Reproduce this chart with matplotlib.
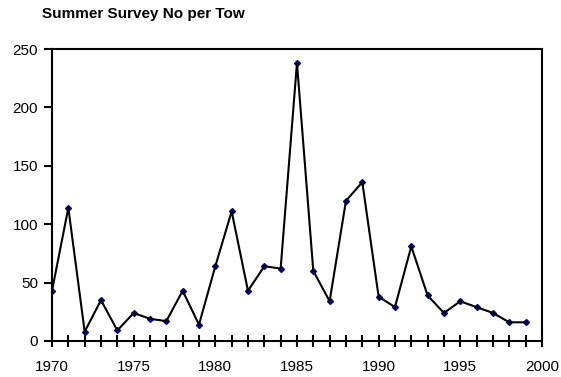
import matplotlib
matplotlib.use("Agg")
import matplotlib.pyplot as plt
from matplotlib.ticker import MultipleLocator

plt.rcParams['font.family'] = ['Liberation Sans', 'DejaVu Sans']

# summer survey catch, numbers per tow
years = list(range(1970, 2000))
noPerTow = [43, 114, 8, 35, 9, 24, 19, 17, 43, 14,
            64, 111, 43, 64, 62, 238, 60, 34, 120, 136,
            38, 29, 81, 39, 24, 34, 29, 24, 16, 16]

fig = plt.figure(figsize=(5.61, 3.77), dpi=100)
axis = fig.add_axes([0.0927, 0.0955, 0.8733, 0.7745])

# markers sit under the line so only their tips show
axis.plot(years, noPerTow, linestyle="", marker="D", markersize=3,
          color="#000080", zorder=2)
axis.plot(years, noPerTow, color="black", linewidth=1.5, zorder=3)

axis.set_xlim(1970, 2000)
axis.set_ylim(0, 250)
axis.xaxis.set_major_locator(MultipleLocator(5))
axis.xaxis.set_minor_locator(MultipleLocator(1))
axis.yaxis.set_major_locator(MultipleLocator(50))

axis.tick_params(axis="x", which="both", direction="inout", length=8, width=1.5,
                 labelsize=11, pad=10)
axis.tick_params(axis="y", direction="out", length=6, width=1.5,
                 labelsize=11, pad=4)
for spine in axis.spines.values():
    spine.set_linewidth(1.5)

fig.text(0.074, 0.952, "Summer Survey No per Tow", fontsize=11,
         fontweight="bold", va="baseline", ha="left")

fig.savefig("out.png", dpi=100)
